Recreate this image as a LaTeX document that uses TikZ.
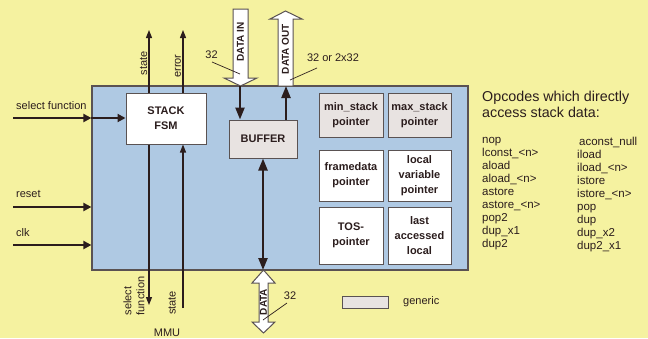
\documentclass[tikz,border=0pt]{standalone}
\usepackage{fontspec}
\setmainfont{Liberation Sans}
\usetikzlibrary{arrows.meta}
\definecolor{bg}{HTML}{F5F2A0}
\definecolor{blu}{HTML}{AFC9E3}
\definecolor{gen}{HTML}{E8E3E1}
\definecolor{edge}{HTML}{5A5252}
\definecolor{ink}{HTML}{2B1D1D}
\tikzset{
  box/.style={draw=edge, line width=1pt, fill=white, align=center, inner sep=0pt,
    text=ink, font=\fontsize{11}{15}\selectfont\bfseries},
  genbox/.style={box, fill=gen},
  lbl/.style={text=ink, inner sep=0pt, font=\fontsize{11}{12}\selectfont},
  blbl/.style={text=ink, inner sep=0pt, font=\fontsize{10}{11}\selectfont\bfseries},
  bus/.style={draw=ink, line width=2.3pt, -{Triangle[length=12pt,width=9pt]}},
  inarrow/.style={draw=ink, line width=2.2pt, -{Triangle[length=8pt,width=8pt]}},
  sig/.style={draw=ink, line width=1.3pt, -{Triangle[length=8pt,width=6pt]}},
  leader/.style={draw=ink, line width=0.7pt},
  hollow/.style={draw=edge, line width=1pt, fill=white, line join=miter},
}
\begin{document}
\begin{tikzpicture}[x=1pt,y=-1pt]
\fill[bg] (0,0) rectangle (648,338);
\useasboundingbox (0,0) rectangle (648,338);

% main block
\node[draw=edge, line width=1.2pt, fill=blu, minimum width=376pt, minimum height=184pt, inner sep=0pt] (blk) at (280,178) {};

% inner boxes
\node[box, minimum width=80pt, minimum height=51pt] (fsm) at (166,118.5) {STACK\\FSM};
\node[genbox, minimum width=68pt, minimum height=38pt] (buf) at (263,139) {BUFFER};
\node[genbox, minimum width=64pt, minimum height=44pt] (mins) at (351,115) {min\_stack\\pointer};
\node[genbox, minimum width=63pt, minimum height=44pt] (maxs) at (419.5,115) {max\_stack\\pointer};
\node[box, minimum width=64pt, minimum height=51pt] (frame) at (351,175.5) {framedata\\pointer};
\node[box, minimum width=63pt, minimum height=51pt] (locv) at (419.5,175.5) {local\\variable\\pointer};
\node[box, minimum width=64pt, minimum height=57pt] (tos) at (351,235.5) {TOS-\\pointer};
\node[box, minimum width=63pt, minimum height=57pt] (last) at (419.5,235.5) {last\\accessed\\local};

% inputs on the left
\coordinate (sfin) at (13,118);
\coordinate (rsin) at (13,207);
\coordinate (clkin) at (13,245);
\coordinate (sfedge) at (blk.west |- sfin);
\draw[inarrow] (sfin) -- (sfedge);
\draw[inarrow] (sfedge) -- (fsm.west |- sfin);
\draw[inarrow] (rsin) -- (blk.west |- rsin);
\draw[inarrow] (clkin) -- (blk.west |- clkin);
\node[lbl, anchor=west] (lsf) at (16,106) {select function};
\node[lbl, anchor=west] (lrs) at (16,194) {reset};
\node[lbl, anchor=west] (lclk) at (16,233) {clk};

% FSM outputs up
\coordinate (stup) at (149,30);
\coordinate (erup) at (183,30);
\draw[sig] ([xshift=-17pt]fsm.north) -- (stup);
\draw[sig] ([xshift=17pt]fsm.north) -- (erup);
\node[lbl, rotate=90] (lst) at (143.5,63.5) {state};
\node[lbl, rotate=90] (ler) at (178,66) {error};

% FSM to MMU
\coordinate (sfdn) at (149,305);
\coordinate (stdn) at (183,308);
\draw[sig] ([xshift=-17pt]fsm.south) -- (sfdn);
\draw[sig] (stdn) -- ([xshift=17pt]fsm.south);
\node[lbl, rotate=90, align=left, font=\fontsize{11}{13}\selectfont] (lsf2) at (134,296) {select\\function};
\node[lbl, rotate=90] (lst2) at (172,303) {state};
\node[lbl] (mmu) at (167,333) {MMU};

% DATA IN hollow arrow
\draw[hollow] (233,9) -- (248,9) -- (248,78) -- (257,78) -- (240.5,86) -- (224,78) -- (233,78) -- cycle;
\node[blbl, rotate=90] (din) at (240.5,42) {DATA IN};
% DATA OUT hollow arrow
\draw[hollow] (278,86) -- (293,86) -- (293,19) -- (302,19) -- (285.5,11) -- (270,19) -- (278,19) -- cycle;
\node[blbl, rotate=90] (dout) at (285.5,49) {DATA OUT};
% DATA bottom double hollow arrow
\draw[hollow] (263.5,270) -- (275,283) -- (268,283) -- (268,322) -- (275,322) -- (263.5,333) -- (252,322) -- (259,322) -- (259,283) -- (252,283) -- cycle;
\node[blbl, rotate=90] (dat) at (263.5,302) {DATA};

% internal buses
\coordinate (dinb) at (240,86);
\coordinate (doutb) at (286,86);
\coordinate (datb) at (263,270);
\draw[bus] (dinb) -- ([xshift=-23pt]buf.north);
\draw[bus] ([xshift=23pt]buf.north) -- (doutb);
\draw[draw=ink, line width=2.3pt, {Triangle[length=12pt,width=9pt]}-{Triangle[length=12pt,width=9pt]}] (buf.south) -- (datb);

% width labels
\node[lbl] (w1) at (211.5,55) {32};
\coordinate (w1a) at (212,62);
\coordinate (w1b) at (240,74);
\draw[leader] (w1a) -- (w1b);
\node[lbl] (w2) at (333,58) {32 or 2x32};
\coordinate (w2a) at (317,68);
\coordinate (w2b) at (290,80);
\draw[leader] (w2a) -- (w2b);
\node[lbl] (w3) at (290,296) {32};
\coordinate (w3a) at (287,303);
\coordinate (w3b) at (263,320);
\draw[leader] (w3a) -- (w3b);

% legend
\node[draw=edge, line width=1pt, fill=gen, minimum width=46pt, minimum height=12pt, inner sep=0pt] (leg) at (365,302) {};
\node[lbl, anchor=west] (legt) at (403,302) {generic};

% opcodes
\node[text=ink, anchor=north west, inner sep=0pt, align=left, font=\fontsize{14.3}{16}\selectfont] (optitle) at (482,91) {Opcodes which directly\\access stack data:};
\node[text=ink, anchor=north west, inner sep=0pt, align=left, font=\fontsize{11.5}{13}\selectfont] (op1) at (482,137) {nop\\lconst\_<n>\\aload\\aload\_<n>\\astore\\astore\_<n>\\pop2\\dup\_x1\\dup2};
\node[text=ink, anchor=north west, inner sep=0pt, align=left, font=\fontsize{11.5}{13}\selectfont] (op2) at (577,137) {\,aconst\_null\\iload\\iload\_<n>\\istore\\istore\_<n>\\pop\\dup\\dup\_x2\\dup2\_x1};
\end{tikzpicture}
\end{document}
